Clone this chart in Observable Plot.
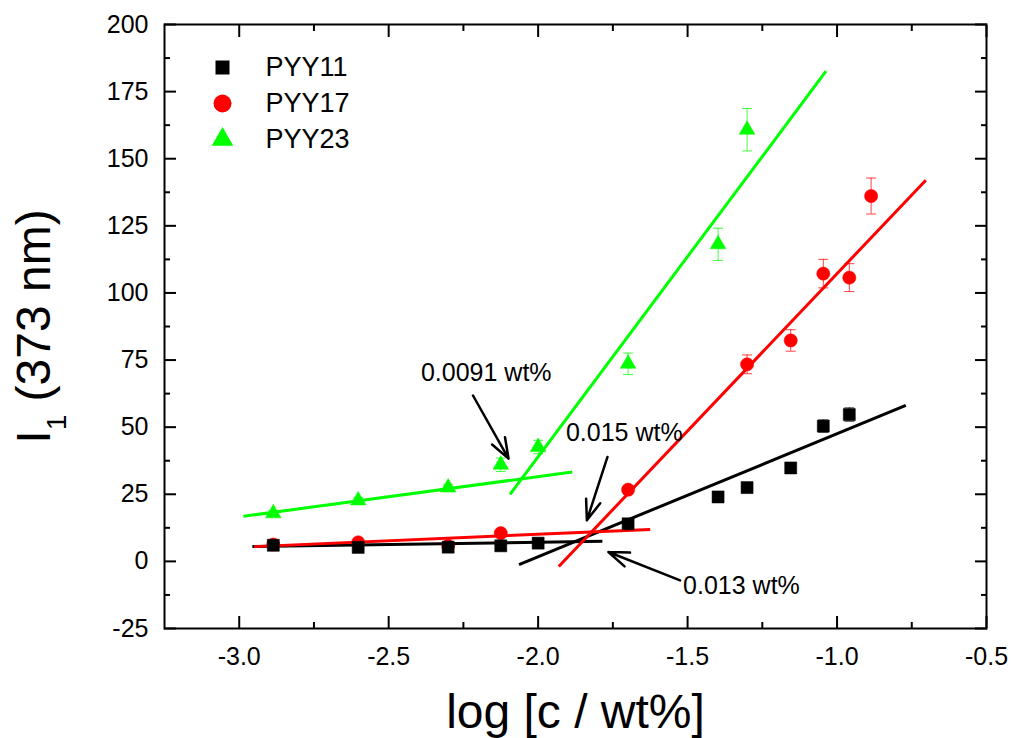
<!DOCTYPE html>
<html><head><meta charset="utf-8">
<script src="https://cdn.jsdelivr.net/npm/d3@7"></script>
<script src="https://cdn.jsdelivr.net/npm/@observablehq/plot@0.6"></script>
<style>
html,body{margin:0;padding:0;background:#fff;}
#chart svg{display:block;}
</style></head><body><div id="chart"></div>
<script>
// ---- data ----
const series = ["PYY11", "PYY17", "PYY23"];
const seriesColors = ["#000000", "#ff0000", "#00ff00"];
const seriesSymbols = ["square", "circle", "triangle"];

const xPYY11 = [-2.886, -2.602, -2.301, -2.125, -2.0, -1.699, -1.398, -1.301, -1.155, -1.046, -0.959];
const yPYY11 = [6.0, 5.2, 5.3, 5.8, 6.8, 14.0, 24.0, 27.5, 34.8, 50.4, 54.7];
const ePYY11 = [0.6, 0.6, 0.6, 0.6, 0.8, 1.0, 1.2, 1.2, 1.5, 2.3, 2.5];

const xPYY17 = [-2.886, -2.602, -2.301, -2.125, -1.699, -1.301, -1.155, -1.046, -0.959, -0.886];
const yPYY17 = [6.3, 7.1, 5.8, 10.5, 26.7, 73.4, 82.3, 107.2, 105.7, 136.1];
const ePYY17 = [0.8, 0.8, 0.8, 1.0, 1.5, 3.5, 4.0, 5.3, 5.2, 6.7];

const xPYY23 = [-2.886, -2.602, -2.301, -2.125, -2.0, -1.699, -1.398, -1.301];
const yPYY23 = [17.9, 22.7, 27.5, 36.0, 42.6, 73.6, 118.1, 160.8];
const ePYY23 = [1.0, 1.0, 1.0, 2.5, 2.5, 4.0, 6.0, 7.9];

// fitted straight lines (end points)
const fitSeries = ["PYY11", "PYY11", "PYY17", "PYY17", "PYY23", "PYY23"];
const fitX1 = [-2.956, -2.064, -2.95, -1.931, -2.986, -2.094];
const fitY1 = [5.5, -1.2, 5.5, -1.9, 16.8, 25.0];
const fitX2 = [-1.785, -0.770, -1.625, -0.703, -1.886, -1.037];
const fitY2 = [7.5, 58.1, 11.9, 142.0, 33.3, 182.6];

// annotations
const annText = ["0.0091 wt%", "0.015 wt%", "0.013 wt%"];
const annX = [-2.392, -1.907, -1.515];
const annY = [70.0, 47.7, -9.3];
const arrX1 = [-2.218, -1.768, -1.525];
const arrY1 = [61.8, 38.9, -7.1];
const arrX2 = [-2.099, -1.837, -1.765];
const arrY2 = [38.3, 15.3, 3.5];

// axes
const xMajor = [-3.0, -2.5, -2.0, -1.5, -1.0, -0.5];
const xTickLabels = ["-3.0", "-2.5", "-2.0", "-1.5", "-1.0", "-0.5"];
const xMinor = [-2.75, -2.25, -1.75, -1.25, -0.75];
const yMajor = [-25, 0, 25, 50, 75, 100, 125, 150, 175, 200];
const yTickLabels = ["-25", "0", "25", "50", "75", "100", "125", "150", "175", "200"];
const yMinor = [-12.5, 12.5, 37.5, 62.5, 87.5, 112.5, 137.5, 162.5, 187.5];
const xTitle = "log [c / wt%]";
const yTitle = "I1 (373 nm)";

// ---- build tables ----
const raw = [[xPYY11, yPYY11, ePYY11], [xPYY17, yPYY17, ePYY17], [xPYY23, yPYY23, ePYY23]];
const points = raw.map(([xs, ys, es], k) => xs.map((x, i) => ({series: series[k], x, y: ys[i], e: es[i]})));
const fits = fitSeries.map((s, i) => ({series: s, x1: fitX1[i], y1: fitY1[i], x2: fitX2[i], y2: fitY2[i]}));
const anns = annText.map((t, i) => ({t, x: annX[i], y: annY[i], x1: arrX1[i], y1: arrY1[i], x2: arrX2[i], y2: arrY2[i]}));

const capSymbol = {draw(context) { context.moveTo(-5, 0); context.lineTo(5, 0); }};
const font = "'Liberation Sans', Arial, sans-serif";

const seriesMarks = [];
const drawOrder = [2, 1, 0];
for (const k of drawOrder) {
  const c = seriesColors[k];
  const pts = points[k];
  seriesMarks.push(
    Plot.ruleX(pts, {x: "x", y1: d => d.y - d.e, y2: d => d.y + d.e, stroke: c, strokeWidth: 1, strokeOpacity: 0.75}),
    Plot.dot(pts, {x: "x", y: d => d.y + d.e, symbol: capSymbol, stroke: c, fill: "none", strokeWidth: 1, strokeOpacity: 0.75}),
    Plot.dot(pts, {x: "x", y: d => d.y - d.e, symbol: capSymbol, stroke: c, fill: "none", strokeWidth: 1, strokeOpacity: 0.75})
  );
}
const markerR = {square: 6.8, circle: 6.6, triangle: 5.8};
const dotMarks = [];
for (const k of drawOrder) {
  dotMarks.push(Plot.dot(points[k], {x: "x", y: "y", symbol: seriesSymbols[k], r: markerR[seriesSymbols[k]], fill: seriesColors[k], stroke: seriesColors[k], strokeWidth: 0.5}));
}

const legendMarks = [];
const legendR = {square: 7.9, circle: 9, triangle: 8};
series.forEach((s, i) => {
  legendMarks.push(
    Plot.dot([s], {frameAnchor: "top-left", dx: 58, dy: 43 + i * 36, symbol: seriesSymbols[i], r: legendR[seriesSymbols[i]], fill: seriesColors[i]}),
    Plot.text([s], {frameAnchor: "top-left", dx: 101, dy: 43 + i * 36, text: d => d, textAnchor: "start", lineAnchor: "middle", fontSize: 27, fill: "black"})
  );
});

const chart = Plot.plot({
  width: 1011,
  height: 738,
  marginLeft: 164,
  marginRight: 25,
  marginTop: 24,
  marginBottom: 110,
  style: {fontFamily: font, background: "white", color: "black"},
  x: {domain: [-3.25, -0.5], label: null},
  y: {domain: [-25, 200], label: null},
  marks: [
    // fitted lines
    Plot.link(fits, {x1: "x1", y1: "y1", x2: "x2", y2: "y2", stroke: d => seriesColors[series.indexOf(d.series)], strokeWidth: 3}),
    ...seriesMarks,
    ...dotMarks,
    // annotations
    Plot.arrow(anns, {x1: "x1", y1: "y1", x2: "x2", y2: "y2", stroke: "black", strokeWidth: 2.5, headLength: 13, headAngle: 40}),
    Plot.text(anns, {x: "x", y: "y", text: "t", textAnchor: "start", lineAnchor: "middle", fontSize: 25, fill: "black"}),
    // ticks (inward, mirrored)
    Plot.axisX(xMajor, {anchor: "bottom", tickSize: -12, fill: "none", label: null, strokeWidth: 2}),
    Plot.axisX(xMinor, {anchor: "bottom", tickSize: -6, fill: "none", label: null, strokeWidth: 2}),
    Plot.axisX(xMajor, {anchor: "top", tickSize: -12, fill: "none", label: null, strokeWidth: 2}),
    Plot.axisX(xMinor, {anchor: "top", tickSize: -6, fill: "none", label: null, strokeWidth: 2}),
    Plot.axisY(yMajor, {anchor: "left", tickSize: -12, fill: "none", label: null, strokeWidth: 2}),
    Plot.axisY(yMinor, {anchor: "left", tickSize: -6, fill: "none", label: null, strokeWidth: 2}),
    Plot.axisY(yMajor, {anchor: "right", tickSize: -12, fill: "none", label: null, strokeWidth: 2}),
    Plot.axisY(yMinor, {anchor: "right", tickSize: -6, fill: "none", label: null, strokeWidth: 2}),
    // tick labels
    Plot.axisX(xMajor, {anchor: "bottom", tickSize: 0, tickPadding: 19, fontSize: 25, label: null, tickFormat: d => xTickLabels[xMajor.indexOf(d)]}),
    Plot.axisY(yMajor, {anchor: "left", tickSize: 0, tickPadding: 16, fontSize: 25, label: null, tickFormat: d => yTickLabels[yMajor.indexOf(d)]}),
    Plot.frame({stroke: "black", strokeWidth: 2}),
    // axis titles
    Plot.text([xTitle], {frameAnchor: "bottom", dy: 99, text: d => d, textAnchor: "middle", lineAnchor: "bottom", fontSize: 48, fill: "black"}),
    Plot.text([yTitle], {frameAnchor: "left", dx: -115, rotate: -90, text: d => d, textAnchor: "middle", lineAnchor: "bottom", fontSize: 48, fill: "black"}),
    ...legendMarks
  ]
});
document.getElementById("chart").append(chart);

// subscript in the y title
d3.select(chart).selectAll("text").filter(function () { return this.textContent === yTitle; }).each(function () {
  const t = d3.select(this);
  t.text(null);
  t.append("tspan").text("I");
  t.append("tspan").attr("font-size", 28).attr("dy", 16).text("1");
  t.append("tspan").attr("dy", -16).text(" (373 nm)");
});
</script>
</body></html>
